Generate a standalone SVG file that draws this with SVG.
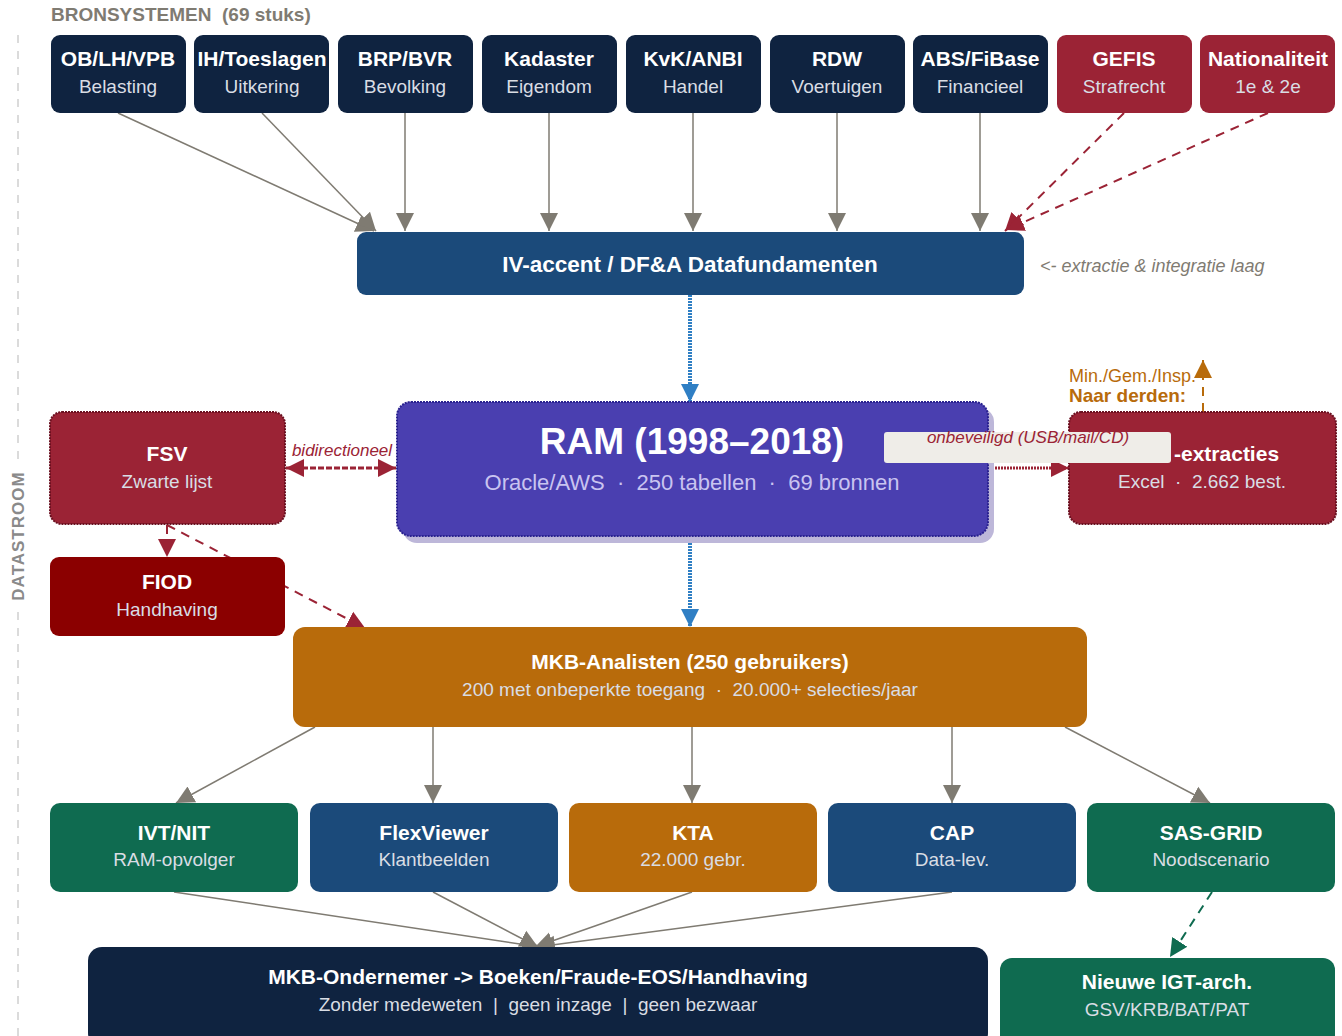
<svg xmlns="http://www.w3.org/2000/svg" width="1342" height="1036" viewBox="0 0 1342 1036">
<defs>
<style>
text{font-family:"Liberation Sans",Arial,sans-serif;text-anchor:middle;white-space:pre}
.t{font-weight:bold;font-size:21px;fill:#fff}
.s{font-size:19px;fill:#d9dde4}
.navy{fill:#0f2340}
.red{fill:#9b2335}
.blue{fill:#1b4a7a}
.green{fill:#0f6b50}
.orange{fill:#b86b0b}
.g{stroke:#7f7b72;stroke-width:1.5;fill:none;marker-end:url(#mg)}
.rd{stroke:#9b2335;stroke-width:2;fill:none;stroke-dasharray:9 7;marker-end:url(#mr)}
.bl{stroke:#2f7fc4;stroke-width:4;fill:none;stroke-dasharray:2 1;marker-end:url(#mb)}
</style>
<marker id="mg" viewBox="0 0 10 10" refX="10" refY="5" markerWidth="18" markerHeight="20" markerUnits="userSpaceOnUse" orient="auto"><path d="M0,0L10,5L0,10z" fill="#7f7b72"/></marker>
<marker id="mr" viewBox="0 0 10 10" refX="10" refY="5" markerWidth="18" markerHeight="20" markerUnits="userSpaceOnUse" orient="auto-start-reverse"><path d="M0,0L10,5L0,10z" fill="#9b2335"/></marker>
<marker id="mb" viewBox="0 0 10 10" refX="10" refY="5" markerWidth="18" markerHeight="20" markerUnits="userSpaceOnUse" orient="auto"><path d="M0,0L10,5L0,10z" fill="#2f7fc4"/></marker>
<marker id="mo" viewBox="0 0 10 10" refX="10" refY="5" markerWidth="18" markerHeight="20" markerUnits="userSpaceOnUse" orient="auto"><path d="M0,0L10,5L0,10z" fill="#b86b0b"/></marker>
<marker id="mgr" viewBox="0 0 10 10" refX="10" refY="5" markerWidth="18" markerHeight="20" markerUnits="userSpaceOnUse" orient="auto"><path d="M0,0L10,5L0,10z" fill="#0f6b50"/></marker>
</defs>
<rect width="1342" height="1036" fill="#fff"/>

<!-- side label -->
<g id="side">
<line x1="18" y1="35" x2="18" y2="460" stroke="#cfcfcf" stroke-width="1.5" stroke-dasharray="8 8"/>
<line x1="18" y1="612" x2="18" y2="1036" stroke="#cfcfcf" stroke-width="1.5" stroke-dasharray="8 8"/>
<text x="18" y="536" transform="rotate(-90 18 536)" dy="6" style="font-weight:bold;font-size:17px;fill:#8a8a8a;letter-spacing:1px">DATASTROOM</text>
<text x="51" y="21" style="text-anchor:start;font-weight:bold;font-size:19px;fill:#7f7b72">BRONSYSTEMEN  (69 stuks)</text>
</g>

<!-- connectors -->
<g id="connectors">
<line class="g" x1="118" y1="113" x2="374" y2="231"/>
<line class="g" x1="262" y1="113" x2="376" y2="231"/>
<line class="g" x1="405" y1="113" x2="405" y2="231"/>
<line class="g" x1="549" y1="113" x2="549" y2="231"/>
<line class="g" x1="693" y1="113" x2="693" y2="231"/>
<line class="g" x1="837" y1="113" x2="837" y2="231"/>
<line class="g" x1="980" y1="113" x2="980" y2="231"/>
<line class="rd" x1="1124" y1="113" x2="1005" y2="231"/>
<line class="rd" x1="1268" y1="113" x2="1006" y2="230"/>
<line class="bl" x1="690" y1="295" x2="690" y2="402"/>
<line class="bl" x1="690" y1="537" x2="690" y2="627"/>
<line x1="286" y1="468" x2="396" y2="468" stroke="#9b2335" stroke-width="3" stroke-dasharray="6 2" marker-start="url(#mr)" marker-end="url(#mr)"/>
<line x1="989" y1="468" x2="1069" y2="468" stroke="#9b2335" stroke-width="3" stroke-dasharray="2 1" marker-end="url(#mr)"/>
<line x1="1203" y1="412" x2="1203" y2="360" stroke="#b86b0b" stroke-width="2" stroke-dasharray="9 7" marker-end="url(#mo)"/>
<line class="rd" x1="167" y1="525" x2="167" y2="557"/>
<line class="rd" x1="167" y1="525" x2="365" y2="628"/>
<line class="g" x1="315" y1="727" x2="176" y2="803"/>
<line class="g" x1="433" y1="727" x2="433" y2="803"/>
<line class="g" x1="692" y1="727" x2="692" y2="803"/>
<line class="g" x1="952" y1="727" x2="952" y2="803"/>
<line class="g" x1="1065" y1="727" x2="1210" y2="803"/>
<line class="g" x1="174" y1="892" x2="540" y2="947"/>
<line class="g" x1="433" y1="892" x2="538" y2="947"/>
<line class="g" x1="692" y1="892" x2="535" y2="947"/>
<line class="g" x1="952" y1="892" x2="537" y2="947"/>
<line x1="1212" y1="892" x2="1170" y2="957" stroke="#0f6b50" stroke-width="2" stroke-dasharray="9 7" marker-end="url(#mgr)"/>
</g>

<!-- source systems -->
<g id="n-oblhvpb"><rect class="navy" x="51" y="35" width="135" height="78" rx="9"/><text class="t" x="118" y="66">OB/LH/VPB</text><text class="s" x="118" y="93">Belasting</text></g>
<g id="n-ih"><rect class="navy" x="194" y="35" width="135" height="78" rx="9"/><text class="t" x="262" y="66">IH/Toeslagen</text><text class="s" x="262" y="93">Uitkering</text></g>
<g id="n-brp"><rect class="navy" x="338" y="35" width="135" height="78" rx="9"/><text class="t" x="405" y="66">BRP/BVR</text><text class="s" x="405" y="93">Bevolking</text></g>
<g id="n-kadaster"><rect class="navy" x="482" y="35" width="135" height="78" rx="9"/><text class="t" x="549" y="66">Kadaster</text><text class="s" x="549" y="93">Eigendom</text></g>
<g id="n-kvk"><rect class="navy" x="626" y="35" width="135" height="78" rx="9"/><text class="t" x="693" y="66">KvK/ANBI</text><text class="s" x="693" y="93">Handel</text></g>
<g id="n-rdw"><rect class="navy" x="770" y="35" width="135" height="78" rx="9"/><text class="t" x="837" y="66">RDW</text><text class="s" x="837" y="93">Voertuigen</text></g>
<g id="n-abs"><rect class="navy" x="913" y="35" width="135" height="78" rx="9"/><text class="t" x="980" y="66">ABS/FiBase</text><text class="s" x="980" y="93">Financieel</text></g>
<g id="n-gefis"><rect class="red" x="1057" y="35" width="135" height="78" rx="9"/><text class="t" x="1124" y="66">GEFIS</text><text class="s" x="1124" y="93">Strafrecht</text></g>
<g id="n-nat"><rect class="red" x="1200" y="35" width="135" height="78" rx="9"/><text class="t" x="1268" y="66">Nationaliteit</text><text class="s" x="1268" y="93">1e &amp; 2e</text></g>

<!-- IV-accent -->
<g id="n-iv">
<rect class="blue" x="357" y="232" width="667" height="63" rx="9"/>
<text class="t" x="690" y="272" style="font-size:22.5px">IV-accent / DF&amp;A Datafundamenten</text>
<text x="1040" y="272" style="text-anchor:start;font-style:italic;font-size:18px;fill:#7f7b72">&lt;- extractie &amp; integratie laag</text>
</g>

<!-- RAM -->
<g id="n-ram">
<rect x="403" y="408" width="591" height="135" rx="14" fill="#bdb7d9"/>
<rect x="397" y="402" width="591" height="134" rx="14" fill="#4a3fb0" stroke="#2a2290" stroke-width="2" stroke-dasharray="2 1"/>
<text x="692" y="454" style="font-weight:bold;font-size:37px;fill:#fff">RAM (1998–2018)</text>
<text x="692" y="490" style="font-size:22px;fill:#c9c4f0">Oracle/AWS  ·  250 tabellen  ·  69 bronnen</text>
</g>

<!-- FSV -->
<g id="n-fsv">
<rect x="50" y="412" width="235" height="112" rx="12" fill="#9b2335" stroke="#6b1020" stroke-width="2" stroke-dasharray="2 1"/>
<text class="t" x="167" y="461">FSV</text>
<text class="s" x="167" y="488">Zwarte lijst</text>
<text x="342" y="456" style="font-style:italic;font-size:17px;fill:#9b2335">bidirectioneel</text>
</g>

<!-- FIOD -->
<g id="n-fiod">
<rect x="50" y="557" width="235" height="79" rx="9" fill="#8b0000"/>
<text class="t" x="167" y="589">FIOD</text>
<text class="s" x="167" y="616">Handhaving</text>
</g>

<!-- Extracties -->
<g id="n-extracties">
<rect x="1069" y="412" width="267" height="112" rx="12" fill="#9b2335" stroke="#6b1020" stroke-width="2" stroke-dasharray="2 1"/>
<text class="t" x="1174" y="461" style="text-anchor:start">-extracties</text>
<text class="s" x="1202" y="488">Excel  ·  2.662 best.</text>
<text x="1069" y="382" style="text-anchor:start;font-size:18px;fill:#b86b0b">Min./Gem./Insp.</text>
<text x="1069" y="402" style="text-anchor:start;font-weight:bold;font-size:19px;fill:#b86b0b">Naar derden:</text>
</g>

<!-- unsafe label -->
<g id="lbl-onbeveiligd">
<rect x="884" y="432" width="287" height="31" rx="3" fill="#efede8"/>
<text x="1028" y="443" style="font-style:italic;font-size:17px;fill:#9b2335">onbeveiligd (USB/mail/CD)</text>
</g>

<!-- MKB-Analisten -->
<g id="n-mkba">
<rect class="orange" x="293" y="627" width="794" height="100" rx="12"/>
<text class="t" x="690" y="669">MKB-Analisten (250 gebruikers)</text>
<text class="s" x="690" y="696">200 met onbeperkte toegang  ·  20.000+ selecties/jaar</text>
</g>

<!-- tools -->
<g id="n-ivt"><rect class="green" x="50" y="803" width="248" height="89" rx="10"/><text class="t" x="174" y="840">IVT/NIT</text><text class="s" x="174" y="866">RAM-opvolger</text></g>
<g id="n-flex"><rect class="blue" x="310" y="803" width="248" height="89" rx="10"/><text class="t" x="434" y="840">FlexViewer</text><text class="s" x="434" y="866">Klantbeelden</text></g>
<g id="n-kta"><rect class="orange" x="569" y="803" width="248" height="89" rx="10"/><text class="t" x="693" y="840">KTA</text><text class="s" x="693" y="866">22.000 gebr.</text></g>
<g id="n-cap"><rect class="blue" x="828" y="803" width="248" height="89" rx="10"/><text class="t" x="952" y="840">CAP</text><text class="s" x="952" y="866">Data-lev.</text></g>
<g id="n-sas"><rect class="green" x="1087" y="803" width="248" height="89" rx="10"/><text class="t" x="1211" y="840">SAS-GRID</text><text class="s" x="1211" y="866">Noodscenario</text></g>

<!-- bottom -->
<g id="n-ondernemer">
<rect class="navy" x="88" y="947" width="900" height="100" rx="14"/>
<text class="t" x="538" y="984">MKB-Ondernemer -&gt; Boeken/Fraude-EOS/Handhaving</text>
<text class="s" x="538" y="1011">Zonder medeweten  |  geen inzage  |  geen bezwaar</text>
</g>
<g id="n-igt">
<rect class="green" x="1000" y="958" width="335" height="90" rx="12"/>
<text class="t" x="1167" y="989">Nieuwe IGT-arch.</text>
<text class="s" x="1167" y="1016">GSV/KRB/BAT/PAT</text>
</g>
</svg>
